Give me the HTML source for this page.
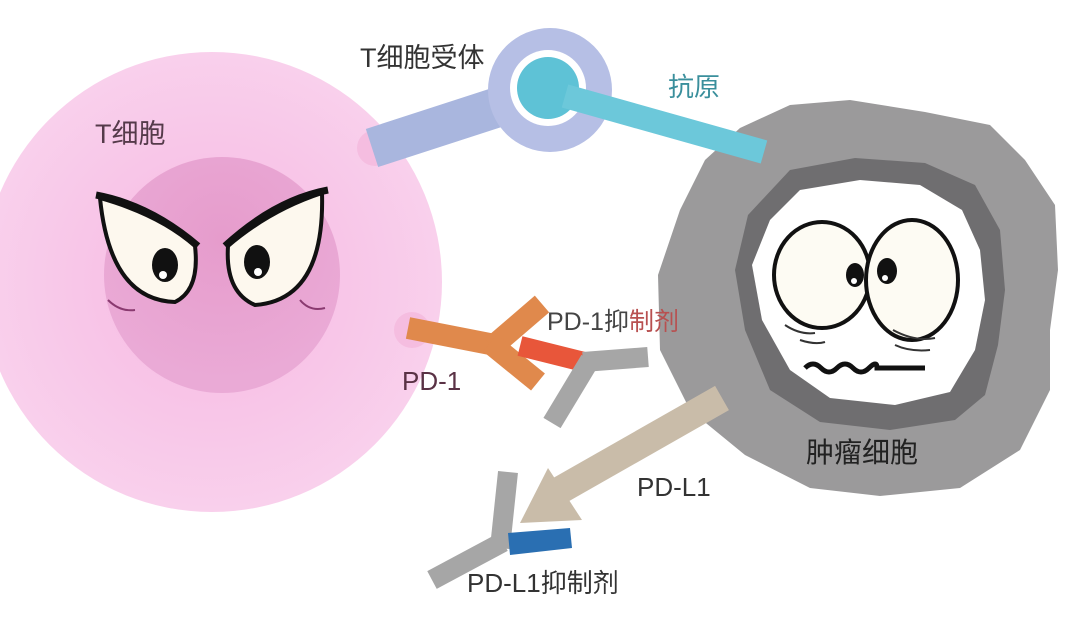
<!DOCTYPE html>
<html><head><meta charset="utf-8"><style>
html,body{margin:0;padding:0;background:#fff;}
svg{display:block}
text{font-family:"Liberation Sans","Noto Sans CJK SC",sans-serif;}
</style></head><body>
<svg width="1080" height="628" viewBox="0 0 1080 628" xmlns="http://www.w3.org/2000/svg">
<defs>
<radialGradient id="pk" cx="0.5" cy="0.5" r="0.5">
<stop offset="0" stop-color="#f6b8e2"/><stop offset="1" stop-color="#f9d0ec"/></radialGradient>
<radialGradient id="nu" cx="0.5" cy="0.35" r="0.6">
<stop offset="0" stop-color="#e69ccc"/><stop offset="1" stop-color="#eaaad6"/></radialGradient>
</defs>
<!-- T cell -->
<circle cx="212" cy="282" r="230" fill="url(#pk)"/>
<circle cx="222" cy="275" r="118" fill="url(#nu)"/>
<circle cx="375" cy="148" r="18" fill="#f3b6dc" opacity="0.7"/>
<circle cx="412" cy="330" r="18" fill="#f3b6dc" opacity="0.7"/>
<!-- eyes T cell -->
<path d="M100,198 Q160,215 195,246 Q200,290 175,302 Q110,300 100,198Z" fill="#fdf8ee" stroke="#111" stroke-width="4"/>
<path d="M96,195 Q150,205 198,246" fill="none" stroke="#111" stroke-width="7"/>
<ellipse cx="165" cy="265" rx="13" ry="17" fill="#111"/><circle cx="163" cy="275" r="4" fill="#fff"/>
<path d="M322,193 Q270,210 228,246 Q225,292 255,305 Q325,300 322,193Z" fill="#fdf8ee" stroke="#111" stroke-width="4"/>
<path d="M328,190 Q275,200 225,246" fill="none" stroke="#111" stroke-width="7"/>
<ellipse cx="257" cy="262" rx="13" ry="17" fill="#111"/><circle cx="258" cy="272" r="4" fill="#fff"/>
<path d="M108,300 Q120,312 135,310 M300,300 Q310,312 325,308" fill="none" stroke="#8a3a70" stroke-width="2"/>
<!-- Tumor -->
<polygon points="740,128 790,105 850,100 925,112 990,125 1025,160 1055,205 1058,270 1050,330 1050,390 1020,450 960,488 880,496 810,488 745,455 690,410 660,350 658,275 680,210 705,160" fill="#9b9a9b"/>
<polygon points="790,170 855,158 925,163 975,185 1000,230 1005,290 998,345 985,395 955,420 890,430 820,422 770,390 745,330 735,270 748,215" fill="#6f6e70"/>
<polygon points="800,190 860,180 920,185 962,210 980,250 985,300 975,350 950,392 895,405 830,398 790,370 762,320 752,265 770,220" fill="#fff"/>
<ellipse cx="822" cy="275" rx="48" ry="53" fill="#fdfbf3" stroke="#111" stroke-width="4"/>
<ellipse cx="912" cy="280" rx="46" ry="60" fill="#fdfbf3" stroke="#111" stroke-width="4"/>
<ellipse cx="855" cy="275" rx="9" ry="12" fill="#111"/><circle cx="854" cy="281" r="3" fill="#fff"/>
<ellipse cx="887" cy="271" rx="10" ry="13" fill="#111"/><circle cx="885" cy="278" r="3" fill="#fff"/>
<path d="M785,325 Q800,335 815,333 M893,330 Q915,342 935,338 M800,340 Q815,345 825,342 M895,345 Q910,352 930,350" fill="none" stroke="#333" stroke-width="2"/>
<path d="M805,368 q8,-8 16,0 t16,0 t16,0 t16,0 t8,0 L925,368" fill="none" stroke="#111" stroke-width="5"/>
<!-- TCR -->
<line x1="372" y1="148" x2="520" y2="100" stroke="#a9b6de" stroke-width="40"/>
<circle cx="550" cy="90" r="62" fill="#b6bfe5"/>
<circle cx="548" cy="88" r="38" fill="#fff"/>
<circle cx="548" cy="88" r="31" fill="#5ec2d6"/>
<line x1="565" y1="96" x2="764" y2="152" stroke="#6cc8da" stroke-width="24"/>
<!-- PD-1 -->
<g stroke="#e0894c" stroke-width="22" stroke-linecap="butt">
<line x1="408" y1="328" x2="495" y2="345"/>
<line x1="492" y1="347" x2="542" y2="304"/>
<line x1="490" y1="343" x2="538" y2="382"/>
</g>
<line x1="520" y1="346" x2="584" y2="362" stroke="#e8563a" stroke-width="20"/>
<g stroke="#a6a6a6" stroke-width="20">
<line x1="583" y1="362" x2="648" y2="357"/>
<line x1="590" y1="360" x2="552" y2="423"/>
</g>
<!-- PD-L1 arrow -->
<line x1="722" y1="398" x2="548" y2="497" stroke="#c9bca9" stroke-width="28"/>
<polygon points="520,523 548,468 582,520" fill="#c9bca9"/>
<g stroke="#a6a6a6" stroke-width="20">
<line x1="508" y1="472" x2="500" y2="548"/>
<line x1="503" y1="542" x2="432" y2="580"/>
</g>
<polygon points="508,533 570,528 572,548 510,555" fill="#2a6fb2"/>
<!-- labels -->
<text x="360" y="67" font-size="27" fill="#333">T细胞受体</text>
<text x="95" y="143" font-size="27" fill="#553a4a">T细胞</text>
<text x="668" y="96" font-size="26" fill="#3a8f9c">抗原</text>
<text x="806" y="462" font-size="28" fill="#222">肿瘤细胞</text>
<text x="547" y="330" font-size="25" fill="#444">PD-1抑<tspan fill="#b85050">制剂</tspan></text>
<text x="402" y="390" font-size="26" fill="#5a3245">PD-1</text>
<text x="637" y="496" font-size="26" fill="#333">PD-L1</text>
<text x="467" y="592" font-size="26" fill="#333">PD-L1抑制剂</text>
</svg>
</body></html>
